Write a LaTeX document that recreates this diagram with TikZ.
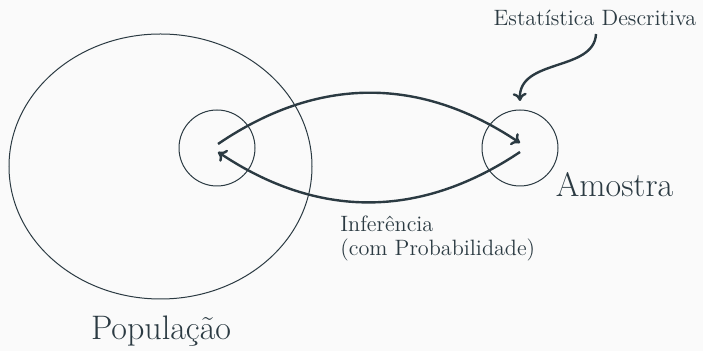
\documentclass[tikz,border=0pt]{standalone}
\usetikzlibrary{arrows.meta}
\definecolor{ink}{HTML}{2B3A42}
\definecolor{bg}{HTML}{FAFAFA}
\begin{document}
\begin{tikzpicture}[x=0.5pt,y=-0.5pt,
  ring/.style={draw=ink,line width=0.5pt},
  conn/.style={draw=ink,line width=1.2pt,-{To[length=4pt,width=7pt]}},
  small/.style={text=ink,font=\fontsize{11.1}{12}\selectfont,inner sep=0pt},
  big/.style={text=ink,font=\fontsize{17}{20}\selectfont,inner sep=0pt}]
\fill[bg] (0,0) rectangle (703,351);
\useasboundingbox (0,0) rectangle (703,351);
% population ellipse
\draw[ring] (160.5,166.5) ellipse [x radius=151.5, y radius=132.5];
% small circles
\node[ring,circle,minimum size=38pt,inner sep=0pt] (pc) at (217,148) {};
\node[ring,circle,minimum size=38pt,inner sep=0pt] (ac) at (520,148) {};
\coordinate (p1) at (218,144);
\coordinate (a1) at (520,143);
\coordinate (a2) at (520,152);
\coordinate (p2) at (218,152);
\draw[conn] (p1) .. controls (318,76) and (420,76) .. (a1);
\draw[conn] (a2) .. controls (420,219) and (318,219) .. (p2);
% labels
\node[small] (ed) at (595,18) {Estatística Descritiva};
\coordinate (edstart) at (596,34);
\coordinate (edend) at (520,101);
\draw[conn] (edstart) .. controls (594,72) and (518,58) .. (edend);
\node[big,anchor=base] (am) at (614.5,197) {Amostra};
\node[small,align=left,anchor=north west] (inf) at (340,215) {Inferência\\(com Probabilidade)};
\node[big,anchor=base] (pop) at (161,340) {População};
\end{tikzpicture}
\end{document}
